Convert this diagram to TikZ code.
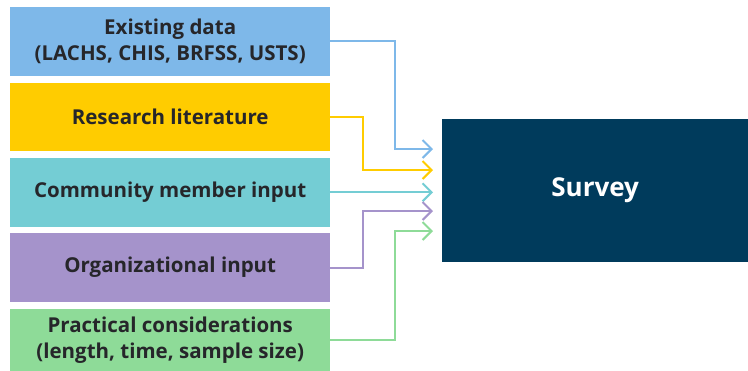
\documentclass[tikz,border=0pt]{standalone}
\usepackage{fontspec}
\setmainfont{Open Sans}
\usepackage{tikz}
\usetikzlibrary{arrows.meta,positioning,calc}
\usepackage{xcolor}
\definecolor{ink}{RGB}{38,38,42}
\definecolor{cblue}{RGB}{126,184,233}
\definecolor{cyel}{RGB}{255,204,0}
\definecolor{cteal}{RGB}{116,205,212}
\definecolor{cpurp}{RGB}{165,147,203}
\definecolor{cgreen}{RGB}{142,219,152}
\definecolor{navy}{RGB}{0,59,92}
\tikzset{
  src/.style={rectangle,minimum width=320pt,minimum height=68.5pt,inner sep=0pt,
    font=\fontsize{20.5}{26}\selectfont\bfseries,text=ink,align=center},
  target/.style={rectangle,fill=navy,minimum width=306pt,minimum height=143pt,
    inner sep=0pt,font=\fontsize{26}{30}\selectfont\bfseries,text=white},
  feed/.style={-{Straight Barb[length=9pt,width=18pt]},line width=2pt},
}

\begin{document}
\begin{tikzpicture}[x=1pt,y=-1pt,node distance=6.5pt]
  \useasboundingbox (0,0) rectangle (748,370);
  \node[src,fill=cblue,anchor=north west] (exist) at (10,7)
    {Existing data\\(LACHS, CHIS, BRFSS, USTS)};
  \node[src,fill=cyel,below=of exist] (lit) {Research literature};
  \node[src,fill=cteal,below=of lit] (comm) {Community member input};
  \node[src,fill=cpurp,below=of comm] (org) {Organizational input};
  \node[src,fill=cgreen,below=of org,minimum height=63pt] (prac)
    {Practical considerations\\(length, time, sample size)};
  \node[target,anchor=north west] (survey) at (442,119) {Survey};
  % arrow ends in front of the survey box
  \coordinate (in1) at (433,149);
  \coordinate (in2) at (433,170);
  \coordinate (in3) at (433,191);
  \coordinate (in4) at (433,211);
  \coordinate (in5) at (433,231);
  \draw[feed,cblue] (exist.east) -- ++(65,0) |- (in1);
  \draw[feed,cyel] (lit.east) -- ++(33,0) |- (in2);
  \draw[feed,cteal] (comm.east) -- (comm.east -| in3);
  \draw[feed,cpurp] (org.east) -- ++(33,0) |- (in4);
  \draw[feed,cgreen] (prac.east) -- ++(65,0) |- (in5);
\end{tikzpicture}
\end{document}
